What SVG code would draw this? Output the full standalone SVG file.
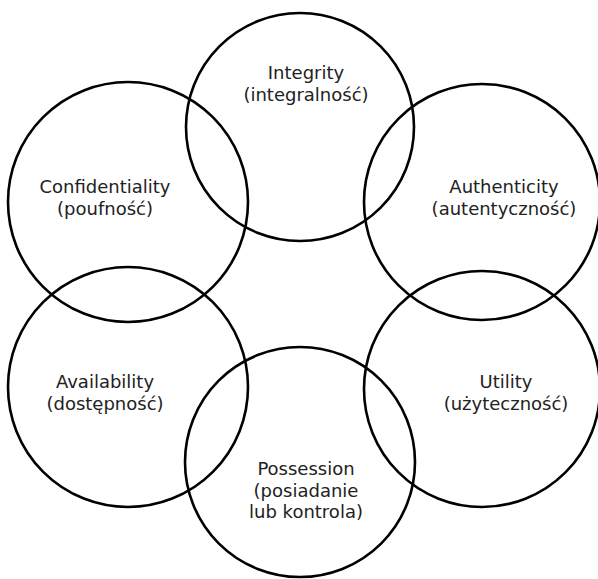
<svg xmlns="http://www.w3.org/2000/svg" width="598" height="579" viewBox="0 0 598 579">
<style>
.c{fill:none;stroke:#000;stroke-width:2.6}
.t{font-family:"DejaVu Sans","Open Sans",sans-serif;font-size:18px;fill:#222;text-anchor:middle}
</style>
<rect width="598" height="579" fill="#fff"/>
<g id="integrity"><circle class="c" cx="300" cy="127" r="114"/><text class="t" x="306" y="79">Integrity</text><text class="t" x="306" y="100.5">(integralność)</text></g>
<g id="confidentiality"><circle class="c" cx="128" cy="202" r="120"/><text class="t" x="105" y="193">Confidentiality</text><text class="t" x="105" y="214.5">(poufność)</text></g>
<g id="authenticity"><circle class="c" cx="482" cy="202" r="118"/><text class="t" x="504" y="193">Authenticity</text><text class="t" x="504" y="214.5">(autentyczność)</text></g>
<g id="availability"><circle class="c" cx="128" cy="387" r="120"/><text class="t" x="105" y="388">Availability</text><text class="t" x="105" y="409.5">(dostępność)</text></g>
<g id="utility"><circle class="c" cx="482" cy="389" r="118"/><text class="t" x="506" y="388">Utility</text><text class="t" x="506" y="409.5">(użyteczność)</text></g>
<g id="possession"><circle class="c" cx="300" cy="462" r="115"/><text class="t" x="306" y="475">Possession</text><text class="t" x="306" y="496.5">(posiadanie</text><text class="t" x="306" y="518">lub kontrola)</text></g>
<g id="connectors"></g>
</svg>
